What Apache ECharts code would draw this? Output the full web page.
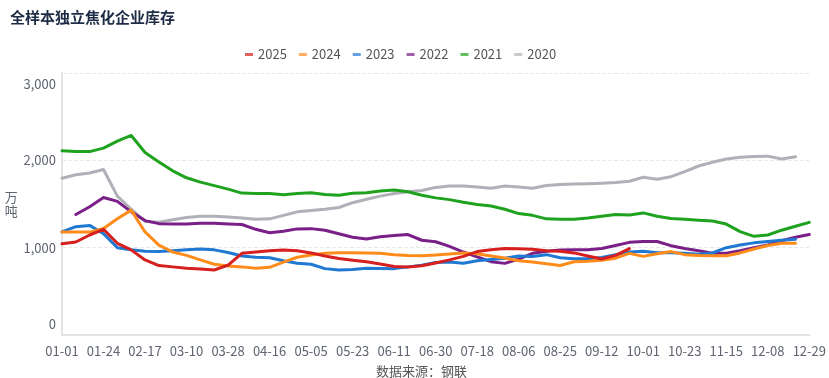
<!DOCTYPE html>
<html>
<head>
<meta charset="utf-8">
<script src="https://cdn.jsdelivr.net/npm/echarts@6/dist/echarts.min.js"></script>
<style>
html,body{margin:0;padding:0;background:#fff;}
#c{width:829px;height:378px;}
</style>
</head>
<body>
<div id="c"></div>
<script>
var categories = ['01-01','01-08','01-16','01-24','02-01','02-09','02-17','02-24','03-03','03-10','03-16','03-22','03-28','04-04','04-10','04-16','04-23','04-29','05-05','05-11','05-17','05-23','05-30','06-05','06-11','06-18','06-24','06-30','07-06','07-12','07-18','07-24','07-31','08-06','08-12','08-19','08-25','08-31','09-06','09-12','09-18','09-25','10-01','10-09','10-16','10-23','10-31','11-07','11-15','11-23','11-30','12-08','12-15','12-22','12-29'];

var years = ['2025','2024','2023','2022','2021','2020'];

var s2025 = [1045,1065,1145,1210,1050,975,859,795,780,765,755,744,800,935,950,965,972,965,940,905,875,855,838,813,785,780,792,825,860,900,955,975,990,988,982,965,958,940,905,870,912,990];

var s2024 = [1180,1178,1178,1220,1330,1430,1180,1030,950,912,860,810,790,780,765,775,835,890,915,935,943,943,940,935,918,910,908,915,927,940,930,905,882,850,835,815,795,838,844,855,880,935,900,930,955,920,910,908,908,940,985,1025,1050,1050];

var s2023 = [1180,1240,1255,1160,1000,975,960,955,965,975,985,975,945,905,890,885,850,821,810,760,745,750,763,762,760,780,800,830,835,822,850,865,880,905,900,920,885,873,872,888,920,950,960,943,943,935,925,940,1000,1030,1055,1070,1085,1095];

var s2022 = [null,1380,1469,1575,1530,1410,1310,1275,1271,1271,1280,1280,1271,1265,1210,1170,1188,1215,1218,1200,1160,1120,1099,1126,1140,1150,1085,1068,1015,950,895,840,820,870,935,960,972,976,976,990,1025,1061,1072,1070,1023,990,965,935,935,965,1000,1030,1080,1120,1150];

var s2021 = [2110,2100,2100,2140,2220,2285,2090,1980,1880,1800,1750,1710,1670,1625,1620,1620,1605,1620,1630,1610,1600,1622,1630,1649,1660,1640,1600,1570,1550,1520,1495,1478,1440,1390,1370,1330,1325,1325,1340,1360,1380,1375,1398,1360,1335,1325,1315,1305,1270,1183,1130,1145,1200,1245,1290];

var s2020 = [1795,1835,1855,1895,1590,1440,1300,1290,1320,1345,1360,1360,1350,1340,1325,1330,1370,1410,1425,1440,1460,1515,1555,1590,1620,1640,1655,1690,1706,1706,1695,1680,1706,1695,1680,1712,1722,1728,1732,1737,1745,1760,1806,1783,1813,1870,1935,1978,2015,2035,2045,2048,2015,2040];

var yTicks = [0, 1000, 2000, 3000];

var colors = ['#d61f1f','#ff8c1a','#1f78d1','#7a1f87','#1fa31f','#b0b0b8'];
var seriesData = [s2025, s2024, s2023, s2022, s2021, s2020];

var chart = echarts.init(document.getElementById('c'));
var FONT = "'Noto Sans CJK SC','Noto Sans',sans-serif";

var series = years.map(function (y, i) {
  return {
    name: y,
    type: 'line',
    data: seriesData[i],
    showSymbol: false,
    symbol: 'none',
    smooth: false,
    connectNulls: true,
    z: 10 - i,
    lineStyle: { width: 3, color: colors[i], join: 'round', cap: 'round' },
    itemStyle: { color: colors[i] }
  };
});

chart.setOption({
  animation: false,
  textStyle: { fontFamily: FONT },
  color: colors,
  title: [{
    text: '全样本独立焦化企业库存',
    left: 5, top: 5,
    textStyle: { fontSize: 15, fontWeight: 'bold', color: '#1d2b45', fontFamily: FONT }
  }, {
    text: '数据来源：钢联',
    left: 371, top: 360,
    textStyle: { fontSize: 13, fontWeight: 'normal', color: '#555', fontFamily: FONT }
  }],
  legend: {
    data: years.map(function (y, i) { return { name: y, itemStyle: { color: colors[i], opacity: 0.7 } }; }),
    left: 240, top: 43,
    icon: 'rect',
    itemWidth: 8, itemHeight: 3,
    itemGap: 12,
    textStyle: { fontSize: 13, color: '#555', fontFamily: FONT }
  },
  grid: { left: 62, right: 4, top: 73, bottom: 43, containLabel: false },
  xAxis: {
    type: 'category',
    data: categories,
    boundaryGap: false,
    axisLine: { lineStyle: { color: '#e3e3e3', width: 2 } },
    axisTick: { show: false },
    axisLabel: { interval: 2, color: '#5e6470', fontSize: 13, margin: 10, fontFamily: FONT }
  },
  yAxis: {
    type: 'value',
    min: 0, max: 3000, interval: 1000,
    name: '万\n吨',
    nameLocation: 'middle',
    nameRotate: 0,
    nameGap: 42,
    nameTextStyle: { color: '#5e6470', fontSize: 13, lineHeight: 14, fontFamily: FONT },
    axisLine: { show: true, lineStyle: { color: '#e3e3e3', width: 2 } },
    axisTick: { show: false },
    axisLabel: {
      color: '#5e6470', fontSize: 13, margin: 6, lineHeight: 22, fontFamily: FONT,
      verticalAlignMinLabel: 'bottom', verticalAlignMaxLabel: 'top',
      formatter: function (v) { return yTicks.indexOf(v) >= 0 ? v.toLocaleString('en-US') : ''; }
    },
    splitLine: { show: true, lineStyle: { color: '#e8e8e8', type: 'dashed' } }
  },
  series: series
});
</script>
</body>
</html>
